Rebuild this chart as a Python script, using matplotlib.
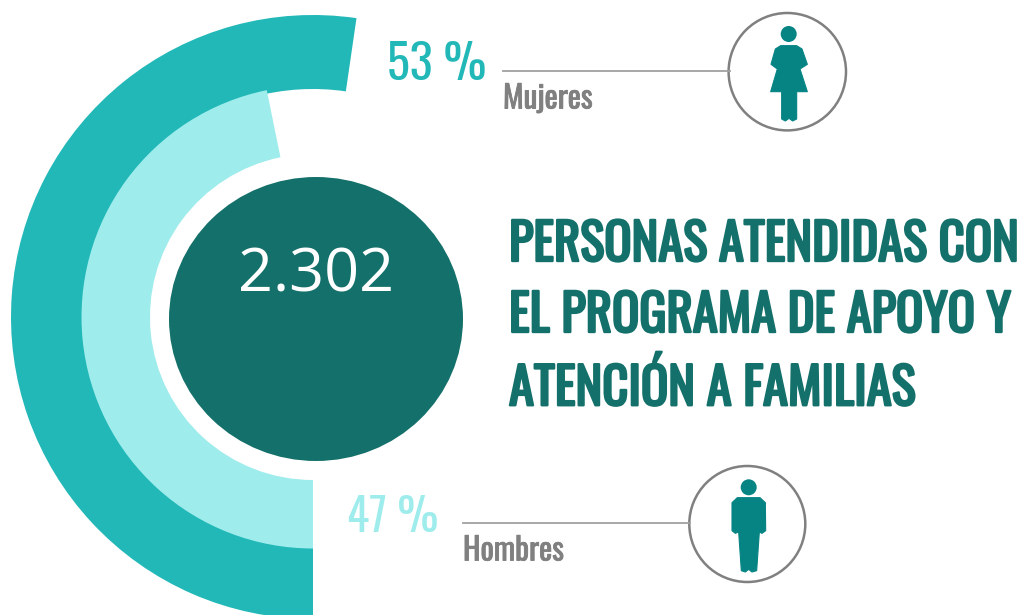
import matplotlib
matplotlib.use("Agg")
import matplotlib.pyplot as plt
import matplotlib.patheffects as pe
from matplotlib.patches import Wedge, Ellipse, Circle, Polygon

# values
labels = ["Mujeres", "Hombres"]
pct_labels = ["53 %", "47 %"]
arc_share = [52.3, 46.8]  # the arcs are drawn a little short of the printed %
total_label = "2.302"
title_lines = ["PERSONAS ATENDIDAS CON", "EL PROGRAMA DE APOYO Y", "ATENCIÓN A FAMILIAS"]

TEAL = "#22b8b8"
LIGHT = "#9fecec"
DARK = "#14706a"
ICON = "#068484"
GREY = "#808080"

NARROW = ["Oswald", "Liberation Sans", "DejaVu Sans"]

# silhouettes, in crop pixels (3x zoom)
woman = [(182, 122), (230, 122), (246, 132), (262, 178), (240, 192), (262, 260), (230, 260),
         (230, 342), (218, 348), (207, 340), (196, 348), (185, 342), (185, 260), (152, 260),
         (172, 192), (153, 178), (166, 132)]
man = [(172, 113), (240, 113), (256, 128), (257, 212), (246, 220), (238, 216), (230, 332),
         (216, 336), (206, 328), (196, 336), (184, 332), (176, 216), (166, 220), (156, 212), (156, 128)]


def draw_icon(ax, shape, origin, head, circle):
    ax.add_patch(Circle(circle[:2], circle[2], fc="white", ec=GREY, lw=1.8))
    pts = [(origin[0] + x / 3, origin[1] + y / 3) for x, y in shape]
    ax.add_patch(Polygon(pts, closed=True, fc=ICON, ec=ICON, lw=0.8, joinstyle="round"))
    ax.add_patch(Circle(head, 8, fc=ICON, ec="none"))


fig = plt.figure(figsize=(10.22, 6.15), dpi=100)
ax = fig.add_axes([0, 0, 1, 1])
ax.set_xlim(0, 1022)
ax.set_ylim(615, 0)
ax.axis("off")

# y runs downwards, so growing angles go clockwise from the bottom (90)
cx, cy = 313, 317
ax.add_patch(Wedge((cx, cy), 302, 90, 90 + arc_share[0] * 3.6, width=74, fc=TEAL, ec="none"))
ax.add_patch(Wedge((cx, cy), 231.5, 90, 90 + arc_share[1] * 3.6, width=68.5, fc=LIGHT, ec="none"))
ax.add_patch(Ellipse((316, 319), 294, 284, fc=DARK, ec="none"))
ax.text(316, 276, total_label, color="white", fontsize=44, family="Open Sans", ha="center", va="center")

# title, the stroke thickens the regular cut
bold = [pe.withStroke(linewidth=1.7, foreground=DARK)]
for line, y in zip(title_lines, [245, 316, 387]):
    ax.text(509, y, line, color=DARK, fontsize=36.5, family=NARROW, ha="left", va="center", path_effects=bold)

# callouts
thick_grey = [pe.withStroke(linewidth=0.6, foreground=GREY)]
ax.text(387, 65, pct_labels[0], color=TEAL, fontsize=34.5, family=NARROW, ha="left", va="center")
ax.text(347, 518, pct_labels[1], color=LIGHT, fontsize=33, family=NARROW, ha="left", va="center")
ax.text(503, 99, labels[0], color=GREY, fontsize=22.5, family=NARROW, ha="left", va="center", path_effects=thick_grey)
ax.text(463, 551, labels[1], color=GREY, fontsize=22.5, family=NARROW, ha="left", va="center", path_effects=thick_grey)
ax.plot([503, 730], [71, 71], color="#a0a0a0", lw=1.3)
ax.plot([463, 690], [523, 523], color="#a0a0a0", lw=1.3)

draw_icon(ax, woman, (720, 5), (788.7, 34), (787.3, 71.7, 58.7))
draw_icon(ax, man, (680, 460), (748.7, 487.3), (747.3, 524, 58))

fig.savefig("out.png", dpi=100)
